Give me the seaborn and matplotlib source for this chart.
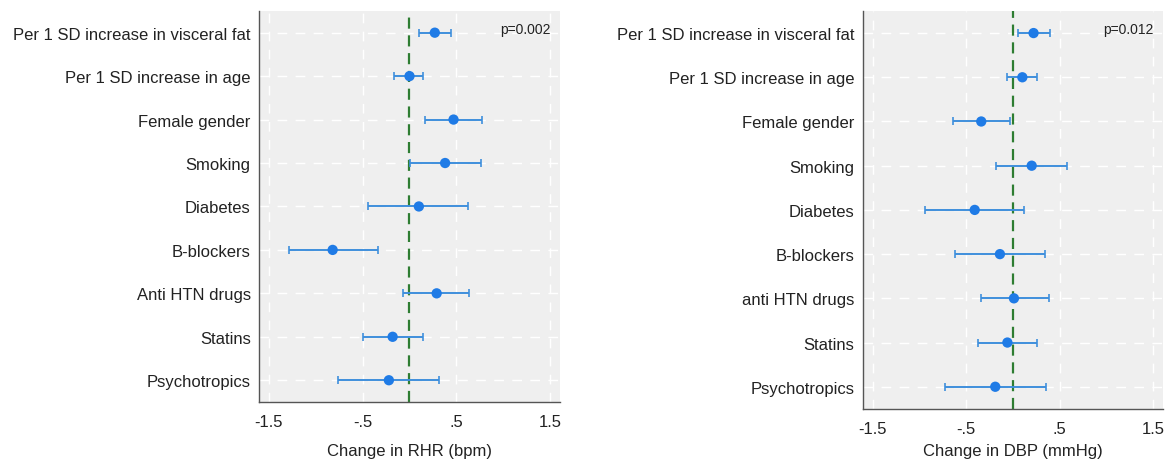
import numpy as np
import pandas as pd
import matplotlib
matplotlib.use("Agg")
import matplotlib.pyplot as plt
import seaborn as sns

labels_rhr = ["Per 1 SD increase in visceral fat", "Per 1 SD increase in age", "Female gender",
              "Smoking", "Diabetes", "B-blockers", "Anti HTN drugs", "Statins", "Psychotropics"]
labels_dbp = ["Per 1 SD increase in visceral fat", "Per 1 SD increase in age", "Female gender",
              "Smoking", "Diabetes", "B-blockers", "anti HTN drugs", "Statins", "Psychotropics"]

rhr_est = [0.27, 0.00, 0.47, 0.38, 0.10, -0.82, 0.29, -0.18, -0.22]
rhr_lo = [0.10, -0.17, 0.17, 0.01, -0.44, -1.29, -0.07, -0.50, -0.76]
rhr_hi = [0.44, 0.14, 0.77, 0.76, 0.62, -0.34, 0.64, 0.14, 0.31]

dbp_est = [0.22, 0.10, -0.34, 0.20, -0.41, -0.14, 0.01, -0.06, -0.19]
dbp_lo = [0.05, -0.06, -0.64, -0.18, -0.94, -0.62, -0.34, -0.38, -0.73]
dbp_hi = [0.40, 0.26, -0.03, 0.58, 0.12, 0.34, 0.38, 0.26, 0.35]

ticks = [-1.5, -0.5, 0.5, 1.5]
tick_labels = ["-1.5", "-.5", ".5", "1.5"]

sns.set_style("white")
plt.rcParams["font.family"] = ["Liberation Sans", "DejaVu Sans"]

fig = plt.figure(figsize=(11.73, 4.6), dpi=100)
ax1 = fig.add_axes([0.2208, 0.124, 0.2566, 0.850])
ax2 = fig.add_axes([0.7357, 0.109, 0.2558, 0.865])

dot_color = "#1f7be6"
bar_color = "#3f8fdc"


def forest(ax, labels, est, lo, hi, xlabel, ptext, lpad):
    df = pd.DataFrame({"label": labels, "est": est, "lo": lo, "hi": hi})
    df["y"] = np.arange(len(df))
    ax.set_facecolor("#efefef")
    for v in ticks:
        ax.axvline(v, color="white", lw=1, ls=(0, (7, 6)), zorder=0)
    for y in df["y"]:
        ax.axhline(y, color="white", lw=1, ls=(0, (7, 6)), zorder=0)
    ax.axvline(0, color="#2e7d32", lw=1.6, ls=(0, (5, 3)), zorder=1)
    ax.errorbar(df["est"], df["y"],
                xerr=[df["est"] - df["lo"], df["hi"] - df["est"]],
                fmt="none", ecolor=bar_color, elinewidth=1.4, capsize=3, capthick=1.2, zorder=2)
    sns.scatterplot(data=df, x="est", y="y", ax=ax, color=dot_color, s=55,
                    edgecolor="none", zorder=3, legend=False)
    ax.set_xlim(-1.606, 1.606)
    ax.set_ylim(len(df) - 0.5, -0.5)
    ax.set_yticks(df["y"])
    ax.set_yticklabels(df["label"], fontsize=12, color="#222222")
    ax.set_xticks(ticks)
    ax.set_xticklabels(tick_labels, fontsize=12, color="#222222")
    ax.set_xlabel(xlabel, fontsize=12, color="#222222", labelpad=lpad)
    ax.set_ylabel("")
    ax.tick_params(axis="both", length=4, width=0.8, color="#555555", direction="out")
    ax.tick_params(axis="x", pad=5)
    ax.tick_params(axis="y", pad=2)
    for s in ["top", "right"]:
        ax.spines[s].set_visible(False)
    for s in ["left", "bottom"]:
        ax.spines[s].set_color("#555555")
        ax.spines[s].set_linewidth(1.0)
    ax.text(0.97, 0.955, ptext, transform=ax.transAxes, ha="right", va="center",
            fontsize=10, color="#222222")


forest(ax1, labels_rhr, rhr_est, rhr_lo, rhr_hi, "Change in RHR (bpm)", "p=0.002", 10)
forest(ax2, labels_dbp, dbp_est, dbp_lo, dbp_hi, "Change in DBP (mmHg)", "p=0.012", 5)

fig.savefig("out.png", dpi=100)
